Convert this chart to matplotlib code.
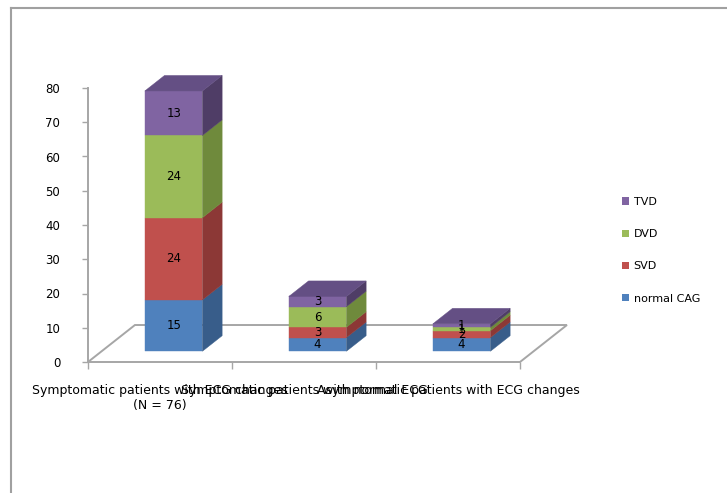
import matplotlib
matplotlib.use('Agg')
import matplotlib.pyplot as plt
from matplotlib.patches import Polygon, Patch
from matplotlib.lines import Line2D

# 数据
categories = ['Symptomatic patients with ECG changes\n(N = 76)',
              'Symptomatic patients with normal ECG',
              'Asymptomatic patients with ECG changes']
series = ['normal CAG', 'SVD', 'DVD', 'TVD']
normal_cag = [15, 4, 4]
svd = [24, 3, 2]
dvd = [24, 6, 1]
tvd = [13, 3, 1]
yticks = [0, 10, 20, 30, 40, 50, 60, 70, 80]

# 颜色（正面 / 侧面 / 顶面）
front_c = ['#4F81BD', '#C0504D', '#9BBB59', '#8064A2']
side_c = ['#385D8A', '#8C3836', '#6F8A3C', '#4F3D66']
top_c = ['#4A77AE', '#A84543', '#86A24C', '#644F84']

plt.rcParams['font.family'] = ['DejaVu Sans']
grey = '#A6A6A6'

fig = plt.figure(figsize=(7.27, 4.93), dpi=100)
ax = fig.add_axes([88 / 727, (493 - 362) / 493, 432 / 727, 274 / 493])
ax.set_xlim(0, 3)
ax.set_ylim(0, 80)

# 斜投影深度向量（类别单位, 数值单位）
dx, dy = 0.326, 10.8
d0, d1 = 0.29, 0.71
bw = 0.40

# 地板
floor = Polygon([(0, 0), (3, 0), (3 + dx, dy), (dx, dy)], closed=True,
                fc='white', ec=grey, lw=1.4, clip_on=False, zorder=1)
ax.add_patch(floor)

data = [normal_cag, svd, dvd, tvd]
for i in range(len(categories)):
    xl = i + 0.5 - bw / 2
    xr = i + 0.5 + bw / 2
    base = 0
    for j, s in enumerate(data):
        v = s[i]
        lo, hi = base, base + v
        fx, fy = d0 * dx, d0 * dy
        bx, by = d1 * dx, d1 * dy
        # 正面
        ax.add_patch(Polygon([(xl + fx, lo + fy), (xr + fx, lo + fy),
                              (xr + fx, hi + fy), (xl + fx, hi + fy)],
                             fc=front_c[j], ec=front_c[j], lw=0.3,
                             clip_on=False, zorder=3))
        # 侧面
        ax.add_patch(Polygon([(xr + fx, lo + fy), (xr + bx, lo + by),
                              (xr + bx, hi + by), (xr + fx, hi + fy)],
                             fc=side_c[j], ec=side_c[j], lw=0.3,
                             clip_on=False, zorder=3))
        if j == len(data) - 1:
            ax.add_patch(Polygon([(xl + fx, hi + fy), (xr + fx, hi + fy),
                                  (xr + bx, hi + by), (xl + bx, hi + by)],
                                 fc=top_c[j], ec=top_c[j], lw=0.3,
                                 clip_on=False, zorder=3))
        ax.text(i + 0.5 + fx, (lo + hi) / 2 + fy, str(v), ha='center',
                va='center', fontsize=8.5, color='black', zorder=5)
        base = hi

# 坐标轴
for sp in ['top', 'right', 'bottom']:
    ax.spines[sp].set_visible(False)
ax.spines['left'].set_color(grey)
ax.spines['left'].set_linewidth(1.4)
ax.set_yticks(yticks)
ax.tick_params(axis='y', direction='out', length=4, width=1, color=grey,
               labelsize=8.5, pad=16)
ax.set_xticks([0, 1, 2, 3])
ax.set_xticklabels([])
ax.tick_params(axis='x', which='major', direction='out', length=5, width=1,
               color=grey)
ax.set_xticks([0.5, 1.5, 2.5], minor=True)
ax.set_xticklabels(categories, minor=True, fontsize=9)
ax.tick_params(axis='x', which='minor', length=0, pad=16)
ax.patch.set_alpha(0)

# 图例
handles = [Patch(fc=front_c[j], ec='none', label=series[j]) for j in range(3, -1, -1)]
fig.legend(handles=handles, loc='upper left', bbox_to_anchor=(622 / 727, 1 - 197 / 493),
           frameon=False, fontsize=8, handlelength=0.65, handleheight=0.65,
           handletextpad=0.4, labelspacing=2.0, borderpad=0, borderaxespad=0)

# 外框
fig.add_artist(Line2D([11 / 727, 1], [1 - 8 / 493, 1 - 8 / 493],
                      transform=fig.transFigure, color='#A0A0A0', lw=1.5))
fig.add_artist(Line2D([11 / 727, 11 / 727], [0, 1 - 8 / 493],
                      transform=fig.transFigure, color='#A0A0A0', lw=1.5))

fig.savefig('out.png', dpi=100)
